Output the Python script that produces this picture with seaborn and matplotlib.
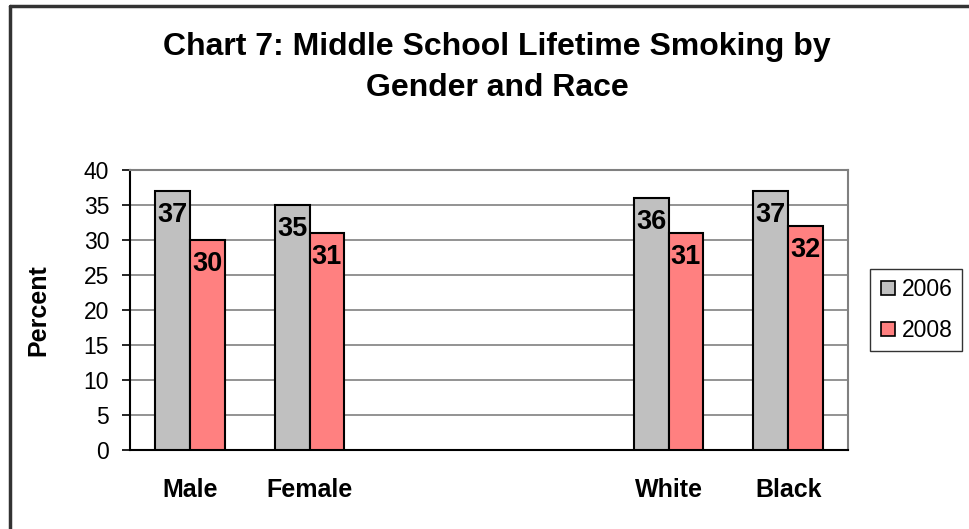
import matplotlib
matplotlib.use("Agg")
import matplotlib.pyplot as plt
from matplotlib.lines import Line2D
import seaborn as sns
import pandas as pd

categories = ["Male", "Female", "", " ", "White", "Black"]
groups = ["Male", "Female", "White", "Black"]
years = ["2006", "2008"]
values_2006 = [37, 35, 36, 37]
values_2008 = [30, 31, 31, 32]
yticks = [0, 5, 10, 15, 20, 25, 30, 35, 40]

df = pd.DataFrame({
    "group": groups * 2,
    "year": [years[0]] * len(groups) + [years[1]] * len(groups),
    "value": values_2006 + values_2008,
})

sns.set_style("white")
plt.rcParams["font.family"] = ["Liberation Sans", "DejaVu Sans"]
plt.rcParams["text.color"] = "black"
plt.rcParams["axes.labelcolor"] = "black"
plt.rcParams["xtick.color"] = "black"
plt.rcParams["ytick.color"] = "black"

fig = plt.figure(figsize=(9.69, 5.29), dpi=100)
ax = fig.add_axes([130 / 969, (529 - 450) / 529, 718 / 969, 280 / 529])

palette = {"2006": "#C0C0C0", "2008": "#FF8080"}
sns.barplot(data=df, x="group", y="value", hue="year", order=categories,
            hue_order=years, palette=palette, width=0.58, gap=0,
            edgecolor="black", linewidth=1.5, saturation=1, ax=ax,
            legend=False, errorbar=None, zorder=3)

ax.set_xlim(-0.5, len(categories) - 0.5)
ax.set_ylim(0, 40)
ax.set_yticks(yticks)
ax.set_yticklabels([str(t) for t in yticks], fontsize=16.5)
ax.yaxis.grid(True, color="#808080", linewidth=1.2, zorder=0)
ax.set_axisbelow(True)

ax.set_xticks(range(len(categories)))
ax.set_xticklabels(categories, fontsize=18, fontweight="bold")
ax.set_xticks([i - 0.5 for i in range(len(categories) + 1)], minor=True)
ax.tick_params(axis="x", which="major", length=0, pad=20)
ax.tick_params(axis="x", which="minor", length=6, width=1.2, color="black",
               direction="out")
ax.tick_params(axis="y", length=6, width=1.2, color="black", direction="out",
               pad=9, left=True)

ax.set_xlabel("")
ax.set_ylabel("Percent", fontsize=18, fontweight="bold", labelpad=24)

for side in ["left", "bottom"]:
    ax.spines[side].set_color("black")
    ax.spines[side].set_linewidth(1.5)
for side in ["right", "top"]:
    ax.spines[side].set_color("#808080")
    ax.spines[side].set_linewidth(1.5)

# value labels just inside the top of each bar
for container in ax.containers:
    for patch in container:
        h = patch.get_height()
        if h > 0:
            ax.annotate(f"{h:.0f}",
                        (patch.get_x() + patch.get_width() / 2, h),
                        xytext=(0, -8), textcoords="offset points",
                        ha="center", va="top", fontsize=19.5,
                        fontweight="bold", zorder=5)

fig.text(497 / 969, 1 - 47 / 529, "Chart 7: Middle School Lifetime Smoking by",
         ha="center", va="center", fontsize=23, fontweight="bold")
fig.text(497 / 969, 1 - 88 / 529, "Gender and Race",
         ha="center", va="center", fontsize=23, fontweight="bold")

handles = [Line2D([], [], marker="s", linestyle="none", markersize=9.5,
                  markerfacecolor=palette[y], markeredgecolor="black",
                  markeredgewidth=1.2) for y in years]
leg = fig.legend(handles, years, loc="center left",
                 bbox_to_anchor=(870 / 969, 1 - 310 / 529), fontsize=16.5,
                 frameon=True, fancybox=False, edgecolor="black",
                 handletextpad=0.2, labelspacing=0.8, borderpad=0.4,
                 handlelength=0.8, borderaxespad=0)
leg.get_frame().set_linewidth(1.0)

# outer chart border
fig.add_artist(Line2D([9.5 / 969, 9.5 / 969], [0, 1 - 5.5 / 529],
                      transform=fig.transFigure, color="#333333", linewidth=2.5))
fig.add_artist(Line2D([9.5 / 969, 1], [1 - 5.5 / 529, 1 - 5.5 / 529],
                      transform=fig.transFigure, color="#333333", linewidth=2.5))

fig.savefig("out.png", dpi=100)
